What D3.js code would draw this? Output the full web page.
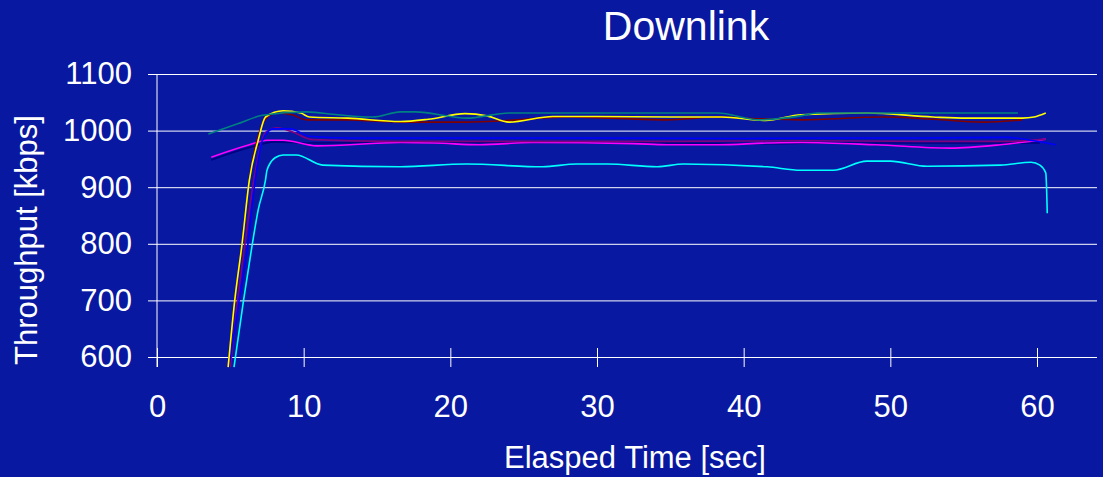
<!DOCTYPE html>
<html>
<head>
<meta charset="utf-8">
<script src="https://cdn.jsdelivr.net/npm/d3@7"></script>
<style>
  html, body { margin: 0; padding: 0; background: #0818a0; }
  svg text { font-family: "Liberation Sans", Arial, sans-serif; fill: #fff; }
</style>
</head>
<body>
<div id="viz"></div>
<script>
// tick values
const yTicks = [600, 700, 800, 900, 1000, 1100];
const xTicks = [0, 10, 20, 30, 40, 50, 60];

// series: [time sec, kbps]
const navy = [[3.7, 948], [6.3, 970], [8.0, 980], [10.5, 978], [16.6, 979], [25, 979], [35, 978], [41.6, 977], [45, 978], [52, 978], [58, 978], [60.2, 978]];
const blue = [[4.9, 582], [5.6, 700], [6.2, 800], [6.7, 913], [7.2, 983], [7.9, 1003], [9.1, 1003], [10.4, 990], [13, 987], [20, 987], [30, 987], [40, 986], [45, 987], [52, 987], [58, 988], [59.8, 982], [61.3, 975]];
const purple = [[5.0, 582], [5.5, 700], [6.0, 800], [6.6, 913], [7.4, 997], [8.2, 1005], [9.2, 998], [10.6, 984], [16, 981], [25, 981], [35, 981], [44, 982], [52, 981], [58, 981], [60.6, 985]];
const magenta = [[3.7, 953], [6.3, 975], [7.5, 983], [8.6, 983], [10.9, 973], [16.6, 979], [19, 978], [22, 975], [25.6, 979], [32.5, 977], [34.8, 975], [38.2, 975], [41.6, 978], [43.9, 979], [49, 975], [54.1, 969], [57.5, 975], [60.6, 985]];
const darkRed = [[4.85, 582], [5.3, 700], [5.8, 800], [6.3, 913], [6.9, 990], [7.4, 1020], [8.2, 1031], [9.2, 1028], [10.2, 1019], [13, 1019], [16.6, 1015], [21.1, 1015], [24, 1018], [28, 1024], [31, 1022], [34.8, 1019], [38.2, 1024], [41, 1021], [43.9, 1019], [49.5, 1024], [53, 1020], [56.3, 1015], [59, 1019]];
const yellow = [[4.85, 582], [5.3, 700], [5.8, 800], [6.3, 913], [6.9, 983], [7.4, 1024], [8.6, 1035], [9.8, 1031], [10.4, 1024], [13, 1022], [16.6, 1016], [18.5, 1020], [21, 1030], [22.5, 1026], [24, 1015], [27, 1025], [30, 1025], [35, 1024], [38.5, 1024], [41.5, 1018], [43.9, 1028], [48.4, 1031], [52.9, 1024], [55.2, 1022], [59, 1022], [59.8, 1024], [60.6, 1031]];
const teal = [[3.5, 994], [5.5, 1012], [7.2, 1027], [10.2, 1033], [12.3, 1028], [14.7, 1024], [16.6, 1033], [17.6, 1033], [21.1, 1022], [24, 1031], [30, 1031], [38.2, 1031], [41.1, 1019], [43.9, 1026], [45, 1031], [52, 1031], [58.7, 1031]];
const cyan = [[5.25, 582], [5.9, 700], [6.5, 800], [6.9, 860], [7.4, 913], [7.5, 930], [8.05, 952], [8.6, 957], [9.5, 957], [11.3, 939], [16.6, 936], [21.1, 941], [26.3, 936], [28.6, 941], [30.7, 941], [34.1, 936], [35.9, 941], [41.6, 936], [43.9, 930], [46.1, 930], [48.4, 946], [50, 946], [52.5, 937], [57.5, 939], [59.6, 944], [60.2, 939], [60.6, 925], [60.7, 854]];

const seriesList = [
  { data: navy, color: "#000080" },
  { data: magenta, color: "#ff00ff" },
  { data: purple, color: "#800080" },
  { data: blue, color: "#0000ff" },
  { data: darkRed, color: "#800000" },
  { data: yellow, color: "#ffff00" },
  { data: teal, color: "#008080" },
  { data: cyan, color: "#00ffff" }
];

const W = 1103, H = 477;
const plotLeft = 157, plotRight = 1097, plotTop = 74, plotBottom = 357;

const svg = d3.select("#viz").append("svg")
  .attr("width", W).attr("height", H);

svg.append("rect").attr("width", W).attr("height", H).attr("fill", "#0818a0");

const x = d3.scaleLinear().domain([0, 60]).range([plotLeft, 1037]);
const y = d3.scaleLinear().domain([600, 1100]).range([plotBottom, plotTop]);

// gridlines
svg.append("g")
  .attr("transform", `translate(${plotLeft},0)`)
  .call(d3.axisRight(y).tickValues(yTicks).tickSize(plotRight - plotLeft).tickFormat(""))
  .call(g => g.select(".domain").remove())
  .call(g => g.selectAll(".tick line").attr("stroke", "#fff").attr("stroke-width", 1));

// y axis
svg.append("g")
  .attr("transform", `translate(${plotLeft},0)`)
  .call(d3.axisLeft(y).tickValues(yTicks).tickFormat(d3.format("d")).tickSize(9).tickSizeOuter(0).tickPadding(16))
  .call(g => g.select(".domain").remove())
  .call(g => g.selectAll(".tick line").attr("stroke", "#fff"))
  .call(g => g.selectAll(".tick text").attr("font-size", 31).attr("fill", "#fff"));

svg.append("line")
  .attr("x1", plotLeft).attr("x2", plotLeft)
  .attr("y1", plotTop).attr("y2", plotBottom + 10)
  .attr("stroke", "#fff");

// x axis
svg.append("g")
  .attr("transform", `translate(0,${plotBottom})`)
  .call(d3.axisBottom(x).tickValues(xTicks).tickSize(10).tickSizeOuter(0))
  .call(g => g.select(".domain").remove())
  .call(g => g.selectAll(".tick line").attr("y1", -9).attr("stroke", "#fff"))
  .call(g => g.selectAll(".tick text")
    .attr("font-size", 31).attr("fill", "#fff")
    .attr("y", 60).attr("dy", 0));

// lines
const line = d3.line()
  .x(d => x(d[0]))
  .y(d => y(d[1]))
  .curve(d3.curveMonotoneX);

seriesList.forEach(s => {
  svg.append("path")
    .datum(s.data)
    .attr("d", line)
    .attr("fill", "none")
    .attr("stroke", s.color)
    .attr("stroke-width", 1.6)
    .attr("stroke-linejoin", "round");
});

// titles
svg.append("text")
  .attr("x", 686).attr("y", 40)
  .attr("text-anchor", "middle")
  .attr("font-size", 41)
  .text("Downlink");

svg.append("text")
  .attr("transform", "translate(37,240) rotate(-90)")
  .attr("text-anchor", "middle")
  .attr("font-size", 31)
  .text("Throughput [kbps]");

svg.append("text")
  .attr("x", 635).attr("y", 468)
  .attr("text-anchor", "middle")
  .attr("font-size", 31)
  .text("Elasped Time [sec]");
</script>
</body>
</html>
